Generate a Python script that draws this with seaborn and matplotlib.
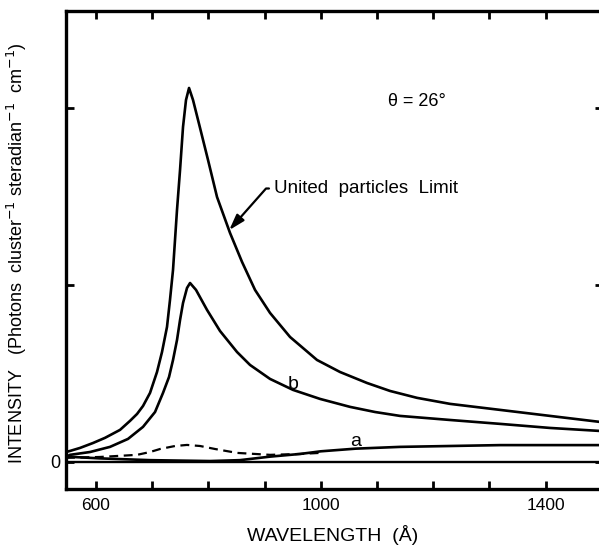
import matplotlib
matplotlib.use("Agg")
import matplotlib.pyplot as plt
import seaborn as sns
import numpy as np
import pandas as pd

# ---- data (wavelength in Angstrom, intensity in arbitrary units) ----
wl_united = [546.6, 553.7, 571.5, 594.7, 616.0, 642.7, 660.5, 673.0, 683.6, 696.1, 708.5,
             717.4, 726.3, 731.6, 737.0, 744.1, 749.5, 754.8, 760.1, 765.5, 772.6, 785.1,
             799.3, 815.3, 838.4, 859.8, 882.9, 909.6, 945.2, 993.2, 1034.2, 1082.2,
             1123.1, 1171.2, 1229.9, 1318.9, 1407.8, 1496.8]
int_united = [0.056, 0.062, 0.079, 0.107, 0.136, 0.181, 0.232, 0.271, 0.316, 0.390, 0.508,
              0.621, 0.763, 0.915, 1.085, 1.424, 1.650, 1.893, 2.045, 2.113, 2.045, 1.887,
              1.706, 1.497, 1.294, 1.130, 0.972, 0.842, 0.706, 0.576, 0.508, 0.446,
              0.401, 0.362, 0.328, 0.294, 0.260, 0.226]

wl_b = [546.6, 553.7, 589.3, 624.9, 656.9, 683.6, 705.0, 719.2, 729.9, 737.0, 744.1,
        749.5, 754.8, 761.9, 767.3, 777.9, 797.5, 820.6, 850.9, 874.0, 909.6, 950.5,
        998.6, 1052.0, 1096.5, 1140.9, 1229.9, 1318.9, 1407.8, 1496.8]
int_b = [0.028, 0.040, 0.056, 0.085, 0.130, 0.198, 0.282, 0.390, 0.480, 0.576, 0.689,
         0.802, 0.898, 0.983, 1.011, 0.972, 0.859, 0.740, 0.621, 0.548, 0.469, 0.407,
         0.356, 0.311, 0.282, 0.260, 0.237, 0.215, 0.192, 0.175]

wl_dashed = [546.6, 607.1, 673.0, 696.1, 713.9, 740.6, 761.9, 785.1, 811.8, 850.9,
             909.6, 963.0, 998.6]
int_dashed = [0.023, 0.028, 0.040, 0.056, 0.073, 0.090, 0.096, 0.090, 0.073, 0.051,
              0.040, 0.045, 0.051]

wl_a = [546.6, 607.0, 696.0, 803.0, 856.0, 910.0, 963.0, 1000.0, 1062.0, 1141.0,
        1230.0, 1319.0, 1408.0, 1496.8]
int_a = [0.030, 0.020, 0.010, 0.005, 0.010, 0.030, 0.045, 0.060, 0.075, 0.085, 0.090,
         0.095, 0.095, 0.095]

wl_zero = [546.6, 1502.0]
int_zero = [0.0, 0.0]

x_major = [600, 1000, 1400]
x_minor = [700, 800, 900, 1100, 1200, 1300, 1500]
y_ticks = [0, 1, 2]
y_ticklabels = ["0", "", ""]

# ---- figure ----
sns.set_theme(style="ticks")
plt.rcParams["font.family"] = ["Liberation Sans", "DejaVu Sans"]
plt.rcParams["mathtext.fontset"] = "dejavusans"
plt.rcParams["lines.solid_joinstyle"] = "round"

W, H = 599, 548
fig = plt.figure(figsize=(W / 100, H / 100), dpi=100)
ax = fig.add_axes([66 / W, 1 - 489 / H, (603 - 66) / W, (489 - 11) / H])

lw = 1.9
sns.lineplot(x=wl_united, y=int_united, ax=ax, color="black", lw=lw, sort=False)
sns.lineplot(x=wl_b, y=int_b, ax=ax, color="black", lw=lw, sort=False)
sns.lineplot(x=wl_a, y=int_a, ax=ax, color="black", lw=lw, sort=False)
sns.lineplot(x=wl_dashed, y=int_dashed, ax=ax, color="black", lw=1.6, sort=False,
             linestyle=(0, (4, 2.5)))
sns.lineplot(x=wl_zero, y=int_zero, ax=ax, color="black", lw=1.7, sort=False)

ax.set_xlim(546.6, 1502)
ax.set_ylim(-0.153, 2.548)

for side in ["left", "bottom", "top"]:
    ax.spines[side].set_linewidth(2.4)
    ax.spines[side].set_color("black")
ax.spines["right"].set_visible(False)

ax.set_xticks(x_major)
ax.set_xticks(x_minor, minor=True)
ax.set_yticks(y_ticks)
ax.set_yticklabels(y_ticklabels)
ax.tick_params(axis="both", which="both", direction="in", length=6, width=2,
               color="black", top=True, right=True, labelcolor="black")
ax.tick_params(axis="x", which="major", labelsize=12.5, pad=6.5)
ax.tick_params(axis="y", which="major", labelsize=13, pad=4)
ax.grid(False)
ax.set_facecolor("white")

# axis titles
fig.text(333 / W, 1 - 535 / H, "WAVELENGTH  (Å)", ha="center", va="center",
         fontsize=14, color="black")
fig.text(17 / W, 1 - 253 / H,
         "INTENSITY   (Photons  cluster$^{-1}$ steradian$^{-1}$  cm$^{-1}$)",
         rotation=90, ha="center", va="center", fontsize=13, color="black")

# annotations
ax.text(1171, 2.034, "θ = 26°", ha="center", va="center", fontsize=13, color="black")
ax.text(950, 0.435, "b", ha="center", va="center", fontsize=14, color="black")
ax.text(1062, 0.113, "a", ha="center", va="center", fontsize=14, color="black")
ax.annotate("United  particles  Limit", xy=(837, 1.31), xytext=(916, 1.545),
            ha="left", va="center", fontsize=13.5, color="black",
            arrowprops=dict(arrowstyle="-|>,head_length=0.7,head_width=0.22",
                            connectionstyle="angle,angleA=0,angleB=48.5,rad=0",
                            color="black", lw=1.6, relpos=(0, 0.5),
                            shrinkA=1, shrinkB=0))

fig.savefig("out.png", dpi=100, facecolor="white")
